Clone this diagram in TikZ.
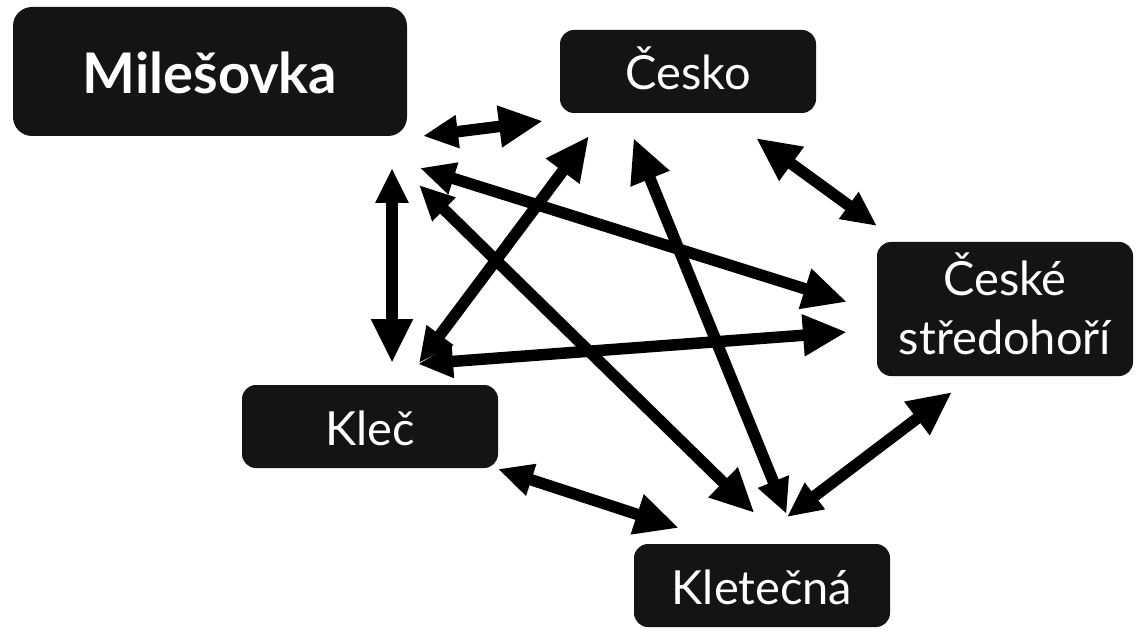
\documentclass[tikz,border=0pt]{standalone}
\usepackage{fontspec}
\setmainfont{Lato}
\usepackage{tikz}
\usetikzlibrary{positioning, arrows.meta, calc}
\definecolor{boxfill}{HTML}{141414}

\begin{document}
\begin{tikzpicture}[x=1pt, y=-1pt, line width=11.5pt]
	\tikzstyle{place} = [fill=boxfill, text=white, rounded corners=14pt, inner sep=0pt, outer sep=0pt, minimum width=256pt, minimum height=83pt, font=\fontsize{47}{58.3}\selectfont, text height=37pt, text depth=0pt];
	\tikzstyle{link} = [{Triangle[length=35pt, width=31pt]}-{Triangle[length=44pt, width=39pt]}];
	
	\useasboundingbox (0,0) rectangle (1145,636);
	
	\node[place, minimum width=394pt, minimum height=129pt, rounded corners=19pt, font=\bfseries\fontsize{56}{66}\selectfont, text height=45pt] (mil) at (210,71.5) {Milešovka};
	\node[place, right = 153pt of mil] (cesko) {Česko};
	\node[place, below right = 129pt and 61pt of cesko, minimum height=134pt, align=center, text height=90pt, text depth=0pt] (stred) {České\\středohoří};
	\node[place, below right = 249pt and 229pt of mil.south west] (klec) {Kleč};
	\node[place, below right = 76pt and 136pt of klec] (klet) {Kletečná};
	
	% small head at the start, big head at the end
	\draw[link] ([shift={(16,0)}]mil.south east) -- ([shift={(-17,8)}]cesko.south west);
	\draw[link] ([shift={(0,-16)}]stred.north west) -- ([shift={(-60,25)}]cesko.south east);
	\draw[link] ([shift={(25,-27)}]klet.north) -- ([shift={(-53,16)}]stred.south);
	\draw[link] ([shift={(0,1)}]klec.south east) -- ([shift={(45,-16)}]klet.north west);
	
	\draw[link] ([shift={(-15,32)}]mil.south east) -- ([shift={(22,-22)}]klec.north);
	\draw[link] ([shift={(13,32)}]mil.south east) -- ([shift={(-30,-7)}]stred.west);
	\draw[link] ([shift={(-80,-21)}]klec.north east) -- ([shift={(-30,23)}]stred.west);
	\draw[link] ([shift={(-79,-22)}]klec.north east) -- ([shift={(29,23)}]cesko.south west);
	\draw[link] ([shift={(12,49)}]mil.south east) -- ([shift={(-7.5,-31)}]klet.north);
	\draw[link] ([shift={(24.5,-30)}]klet.north) -- ([shift={(-54.5,25)}]cesko.south);
	
\end{tikzpicture}
\end{document}
